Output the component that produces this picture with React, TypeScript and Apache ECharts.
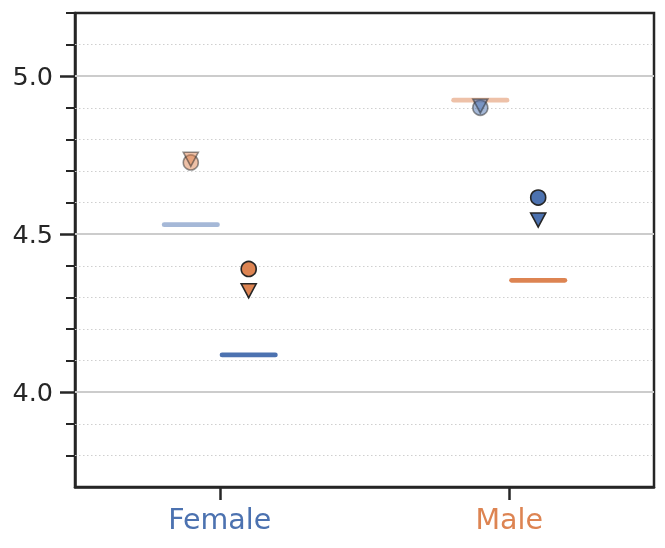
import React, { useEffect, useRef } from 'react';
import * as echarts from 'echarts';

const categories = ['Female', 'Male'];
const categoryColors = ['#4c72b0', '#dd8452'];
const markerColors = ['#dd8452', '#4c72b0'];

// faded group (left of each category)
const fadedLineValues = [4.530, 4.924];
const fadedCircleValues = [4.727, 4.900];
const fadedTriangleValues = [4.737, 4.906];

// solid group (right of each category)
const solidLineValues = [4.118, 4.354];
const solidCircleValues = [4.390, 4.616];
const solidTriangleValues = [4.321, 4.545];

const majorTicks = [4.0, 4.5, 5.0];
const minorTicks = [3.8, 3.9, 4.1, 4.2, 4.3, 4.4, 4.6, 4.7, 4.8, 4.9, 5.1, 5.2];
const yMin = 3.7;
const yMax = 5.2;

const INK = '#262626';

export default function App() {
  const ref = useRef<HTMLDivElement>(null);

  useEffect(() => {
    if (!ref.current) return;
    const chart = echarts.init(ref.current, undefined, { renderer: 'svg' });

    const groups = [
      { off: -0.1, opacity: 0.5, lines: fadedLineValues, circles: fadedCircleValues, tris: fadedTriangleValues },
      { off: 0.1, opacity: 1, lines: solidLineValues, circles: solidCircleValues, tris: solidTriangleValues },
    ];
    const HALF = 0.092;

    const series: any[] = [];
    // minor dotted gridlines
    series.push({
      type: 'line',
      xAxisIndex: 1,
      yAxisIndex: 0,
      data: [],
      z: 1,
      silent: true,
      markLine: {
        z: 1,
        silent: true,
        symbol: 'none',
        label: { show: false },
        lineStyle: { color: '#cfcfcf', width: 1, type: [1.5, 2.5] },
        data: minorTicks.filter((v) => v < yMax).map((v) => ({ yAxis: v })),
      },
    });
    // major solid gridlines
    series.push({
      type: 'line',
      xAxisIndex: 1,
      yAxisIndex: 0,
      data: [],
      z: 1,
      silent: true,
      markLine: {
        z: 1,
        silent: true,
        symbol: 'none',
        label: { show: false },
        lineStyle: { color: '#cccccc', width: 2, type: 'solid' },
        data: majorTicks.map((v) => ({ yAxis: v })),
      },
    });

    groups.forEach((g) => {
      categories.forEach((_, i) => {
        series.push({
          type: 'line',
          xAxisIndex: 1,
          yAxisIndex: 0,
          symbol: 'none',
          z: 2,
          silent: true,
          lineStyle: { color: categoryColors[i], width: 4.8, opacity: g.opacity, cap: 'round' },
          data: [
            [i + g.off - HALF, g.lines[i]],
            [i + g.off + HALF, g.lines[i]],
          ],
        });
      });
    });

    groups.forEach((g) => {
      series.push({
        type: 'scatter',
        xAxisIndex: 1,
        yAxisIndex: 0,
        symbol: 'circle',
        symbolSize: 15,
        z: 3,
        itemStyle: { borderColor: INK, borderWidth: 1.6, opacity: g.opacity },
        data: categories.map((_, i) => ({
          value: [i + g.off, g.circles[i]],
          itemStyle: { color: markerColors[i] },
        })),
      });
      series.push({
        type: 'scatter',
        xAxisIndex: 1,
        yAxisIndex: 0,
        symbol: 'path://M0,0L10,0L5,9.3Z',
        symbolSize: [15, 14],
        z: 4,
        itemStyle: { borderColor: INK, borderWidth: 1.6, opacity: g.opacity },
        data: categories.map((_, i) => ({
          value: [i + g.off, g.tris[i]],
          itemStyle: { color: markerColors[i] },
        })),
      });
    });

    chart.setOption({
      animation: false,
      textStyle: { fontFamily: 'DejaVu Sans' },
      grid: {
        left: 75,
        right: 11,
        top: 13,
        bottom: 61,
        show: true,
        borderColor: INK,
        borderWidth: 2.5,
        backgroundColor: 'transparent',
      },
      xAxis: [
        {
          type: 'category',
          data: categories,
          boundaryGap: true,
          axisLine: { show: true, onZero: false, lineStyle: { color: INK, width: 2.5 } },
          axisTick: { show: true, alignWithLabel: true, length: 13, lineStyle: { color: INK, width: 2.5 } },
          axisLabel: {
            fontSize: 28.5,
            margin: 18,
            fontFamily: 'DejaVu Sans',
            color: (v: any) => categoryColors[categories.indexOf(v)] || INK,
          },
          splitLine: { show: false },
        },
        { type: 'value', min: -0.5, max: 1.5, show: false, axisLine: { onZero: false } },
      ],
      yAxis: [
        {
          type: 'value',
          min: yMin,
          max: yMax,
          position: 'left',
          axisLine: { show: true, onZero: false, lineStyle: { color: INK, width: 2.5 } },
          axisTick: { show: true, customValues: minorTicks, length: 9, lineStyle: { color: INK, width: 2 } },
          axisLabel: { show: false },
          splitLine: { show: false },
        },
        {
          type: 'value',
          min: yMin,
          max: yMax,
          position: 'left',
          axisLine: { show: false, onZero: false },
          axisTick: { show: true, customValues: majorTicks, length: 15, lineStyle: { color: INK, width: 2.5 } },
          axisLabel: {
            show: true,
            customValues: majorTicks,
            fontSize: 25.5,
            margin: 22,
            color: INK,
            fontFamily: 'DejaVu Sans',
            formatter: (v: number) => v.toFixed(1),
          },
          splitLine: { show: false },
        },
      ],
      series,
    });

    return () => chart.dispose();
  }, []);

  return <div ref={ref} style={{ position: 'fixed', left: 0, top: 0, width: 665, height: 548 }} />;
}
